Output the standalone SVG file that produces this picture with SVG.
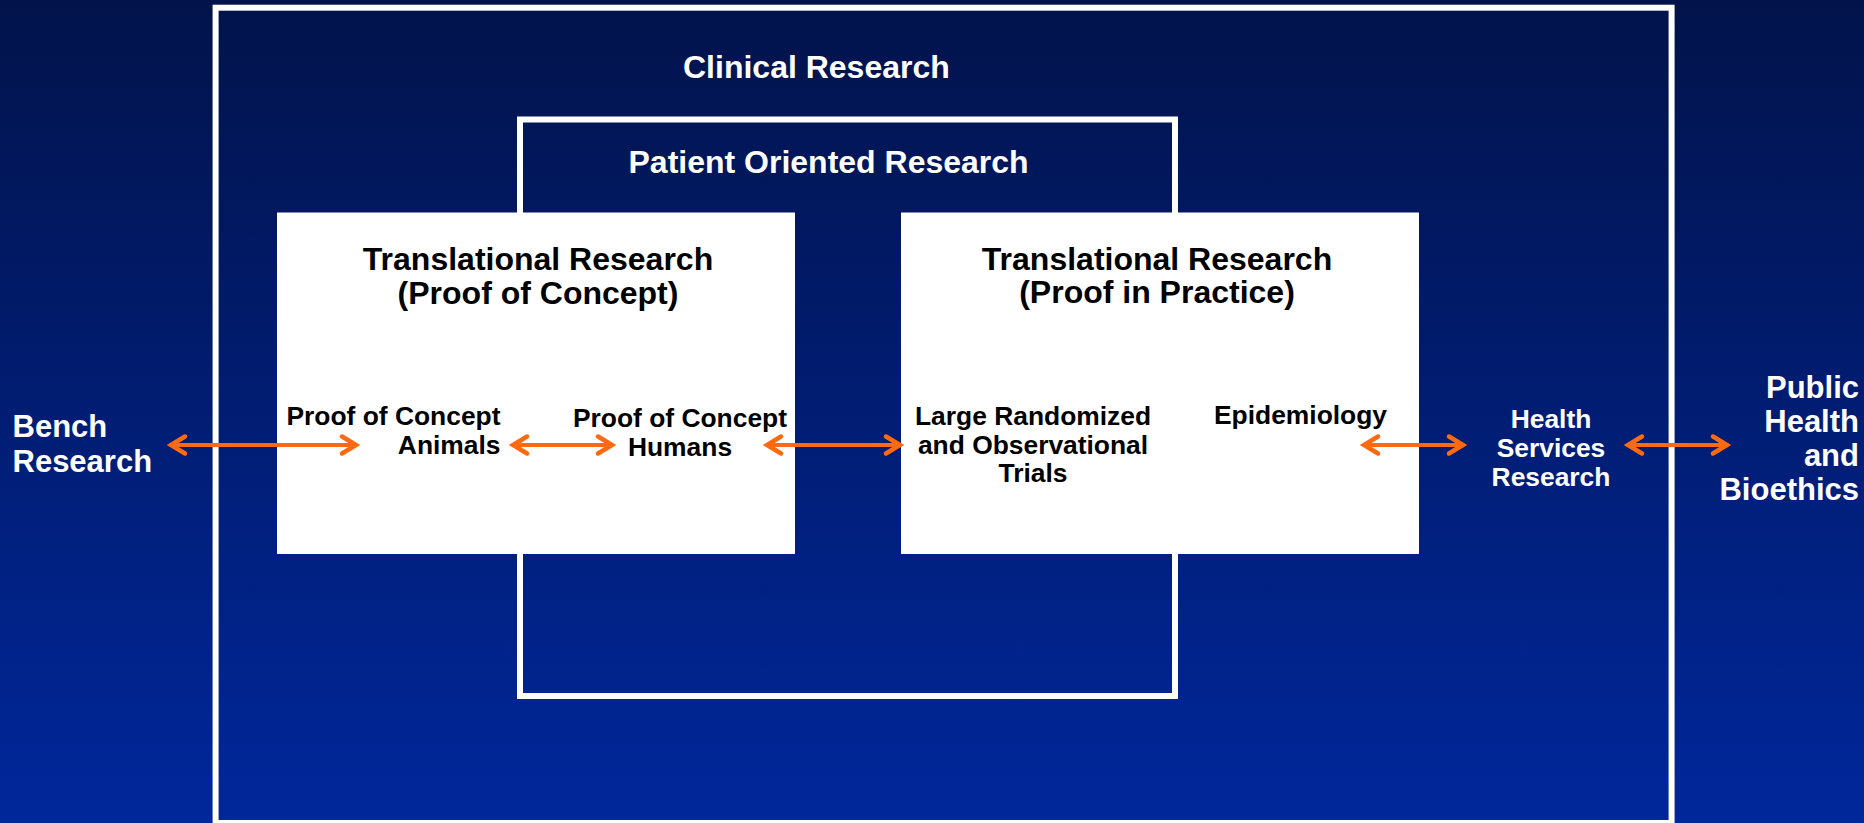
<svg xmlns="http://www.w3.org/2000/svg" width="1864" height="823" viewBox="0 0 1864 823">
  <defs>
    <linearGradient id="bg" x1="0" y1="0" x2="0" y2="1">
      <stop offset="0" stop-color="#02134b"/>
      <stop offset="1" stop-color="#00279b"/>
    </linearGradient>
    <marker id="ah" viewBox="-18 -12 26 24" refX="0" refY="0" markerWidth="26" markerHeight="24" markerUnits="userSpaceOnUse" orient="auto-start-reverse">
      <path d="M-14,-8.5 L0,0 L-14,8.5" fill="none" stroke="#ff6a10" stroke-width="4.5" stroke-linecap="round" stroke-linejoin="miter"/>
    </marker>
    <style>
      .frame { fill: none; stroke: #ffffff; stroke-width: 6; }
      .box { fill: #ffffff; }
      .t { font-family: "Liberation Sans", Arial, sans-serif; font-weight: bold; }
      .big { font-size: 32px; }
      .side { font-size: 31px; }
      .small { font-size: 26.4px; }
      .w { fill: #ffffff; }
      .k { fill: #000000; }
      .arrow { stroke: #ff6a10; stroke-width: 4; fill: none; marker-start: url(#ah); marker-end: url(#ah); }
    </style>
  </defs>

  <rect x="0" y="0" width="1864" height="823" fill="url(#bg)"/>

  <g id="clinical-research">
    <rect class="frame" x="215.6" y="7.7" width="1456" height="815.3"/>
    <text class="t big w" x="683" y="78">Clinical Research</text>
  </g>

  <g id="patient-oriented-research">
    <rect class="frame" x="520" y="119.5" width="655" height="576.5"/>
    <text class="t big w" x="628.5" y="173">Patient Oriented Research</text>
  </g>

  <g id="translational-concept">
    <rect class="box" x="277" y="212.5" width="518" height="341.5"/>
    <text class="t big k" text-anchor="middle" x="538" y="270">Translational Research</text>
    <text class="t big k" text-anchor="middle" x="538" y="303.5">(Proof of Concept)</text>
  </g>

  <g id="translational-practice">
    <rect class="box" x="901" y="212.5" width="518" height="341.5"/>
    <text class="t big k" text-anchor="middle" x="1157" y="270">Translational Research</text>
    <text class="t big k" text-anchor="middle" x="1157" y="303">(Proof in Practice)</text>
  </g>

  <g id="bench-research">
    <text class="t side w" x="12.5" y="437">Bench</text>
    <text class="t side w" x="12.5" y="471.5">Research</text>
  </g>

  <g id="poc-animals">
    <text class="t small k" text-anchor="end" x="500.5" y="425">Proof of Concept</text>
    <text class="t small k" text-anchor="end" x="500.5" y="453.5">Animals</text>
  </g>

  <g id="poc-humans">
    <text class="t small k" text-anchor="middle" x="680" y="427">Proof of Concept</text>
    <text class="t small k" text-anchor="middle" x="680" y="456">Humans</text>
  </g>

  <g id="large-trials">
    <text class="t small k" text-anchor="middle" x="1033" y="425">Large Randomized</text>
    <text class="t small k" text-anchor="middle" x="1033" y="453.5">and Observational</text>
    <text class="t small k" text-anchor="middle" x="1033" y="482">Trials</text>
  </g>

  <g id="epidemiology">
    <text class="t small k" x="1214" y="424">Epidemiology</text>
  </g>

  <g id="health-services-research">
    <text class="t small w" text-anchor="middle" x="1551" y="428">Health</text>
    <text class="t small w" text-anchor="middle" x="1551" y="457">Services</text>
    <text class="t small w" text-anchor="middle" x="1551" y="486">Research</text>
  </g>

  <g id="public-health-bioethics">
    <text class="t side w" text-anchor="end" x="1859" y="397.5">Public</text>
    <text class="t side w" text-anchor="end" x="1859" y="431.5">Health</text>
    <text class="t side w" text-anchor="end" x="1859" y="466">and</text>
    <text class="t side w" text-anchor="end" x="1859" y="500">Bioethics</text>
  </g>

  <g id="connectors">
    <line class="arrow" x1="171" y1="445" x2="356" y2="445"/>
    <line class="arrow" x1="513" y1="445" x2="612" y2="445"/>
    <line class="arrow" x1="767" y1="445" x2="900" y2="445"/>
    <line class="arrow" x1="1364" y1="445" x2="1463" y2="445"/>
    <line class="arrow" x1="1628" y1="445" x2="1727" y2="445"/>
  </g>
</svg>
